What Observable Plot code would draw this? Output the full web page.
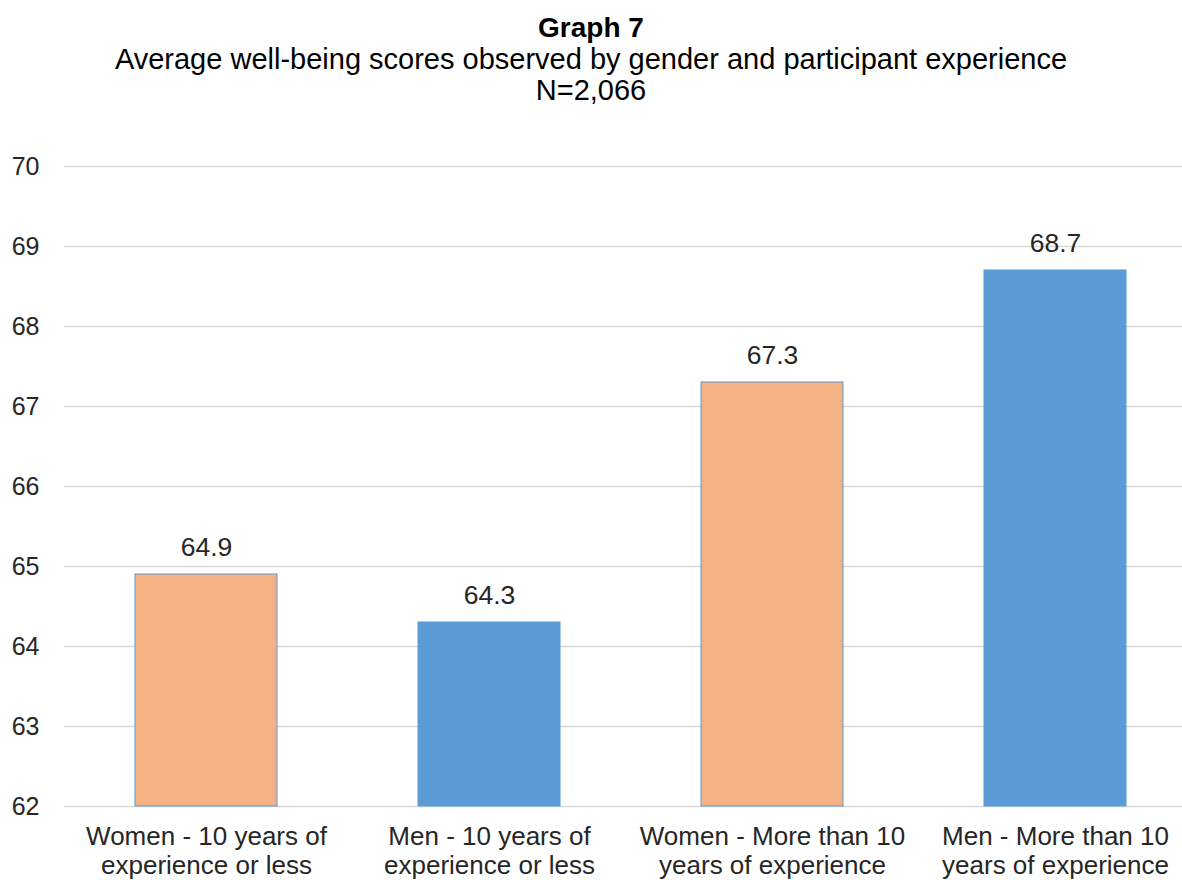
<!DOCTYPE html>
<html><head><meta charset="utf-8">
<script src="https://cdn.jsdelivr.net/npm/d3@7"></script>
<script src="https://cdn.jsdelivr.net/npm/@observablehq/plot@0.6"></script>
<style>
html,body{margin:0;padding:0;background:#fff;overflow:hidden;width:1182px;height:880px}
#chart{position:absolute;left:0;top:0}
.t{position:absolute;left:0;width:1182px;text-align:center;font-family:"Liberation Sans",Arial,sans-serif;color:#000;line-height:32px;white-space:nowrap}
#t1{top:12px;font-weight:bold;font-size:28px}
#t2{top:43px;font-size:29px}
#t3{top:74px;font-size:29px}
</style></head>
<body>
<div id="chart"></div>
<div class="t" id="t1">Graph 7</div>
<div class="t" id="t2">Average well-being scores observed by gender and participant experience</div>
<div class="t" id="t3">N=2,066</div>
<script>
const categories = ["Women - 10 years of\nexperience or less","Men - 10 years of\nexperience or less","Women - More than 10\nyears of experience","Men - More than 10\nyears of experience"];
const values = [64.9, 64.3, 67.3, 68.7];
const genders = ["Women","Men","Women","Men"];
const yTicks = [62,63,64,65,66,67,68,69,70];
const data = categories.map((c,i)=>({category:c, value:values[i], gender:genders[i]}));
const chart = Plot.plot({
  width: 1182, height: 880,
  marginTop: 166, marginBottom: 74, marginLeft: 64, marginRight: 0,
  style: {fontFamily: '"Liberation Sans", Arial, sans-serif', background: "#fff", overflow: "visible"},
  x: {domain: categories, range: [64, 1196], paddingInner: 0.5, paddingOuter: 0.25, label: null},
  y: {domain: [62, 70], label: null},
  color: {domain: ["Women","Men"], range: ["#F4B183","#5B9BD5"]},
  marks: [
    Plot.gridY(yTicks, {stroke: "#d9d9d9", strokeOpacity: 1, strokeWidth: 1.6}),
    Plot.barY(data, {x: "category", y1: 62, y2: "value", fill: "gender", stroke: "#5B9BD5", strokeWidth: 1}),
    Plot.text(data, {x: "category", y: "value", text: d => d.value.toFixed(1), lineAnchor: "bottom", dy: -19, fontSize: 26.5, fill: "#262626"}),
    Plot.axisY({ticks: yTicks, tickSize: 0, tickPadding: 25, fontSize: 25, fill: "#262626", tickFormat: d => d}),
    Plot.axisX({tickSize: 0, tickPadding: 18, fontSize: 26, fill: "#262626", lineHeight: 1.12})
  ]
});
document.getElementById("chart").appendChild(chart);
</script>
</body></html>
